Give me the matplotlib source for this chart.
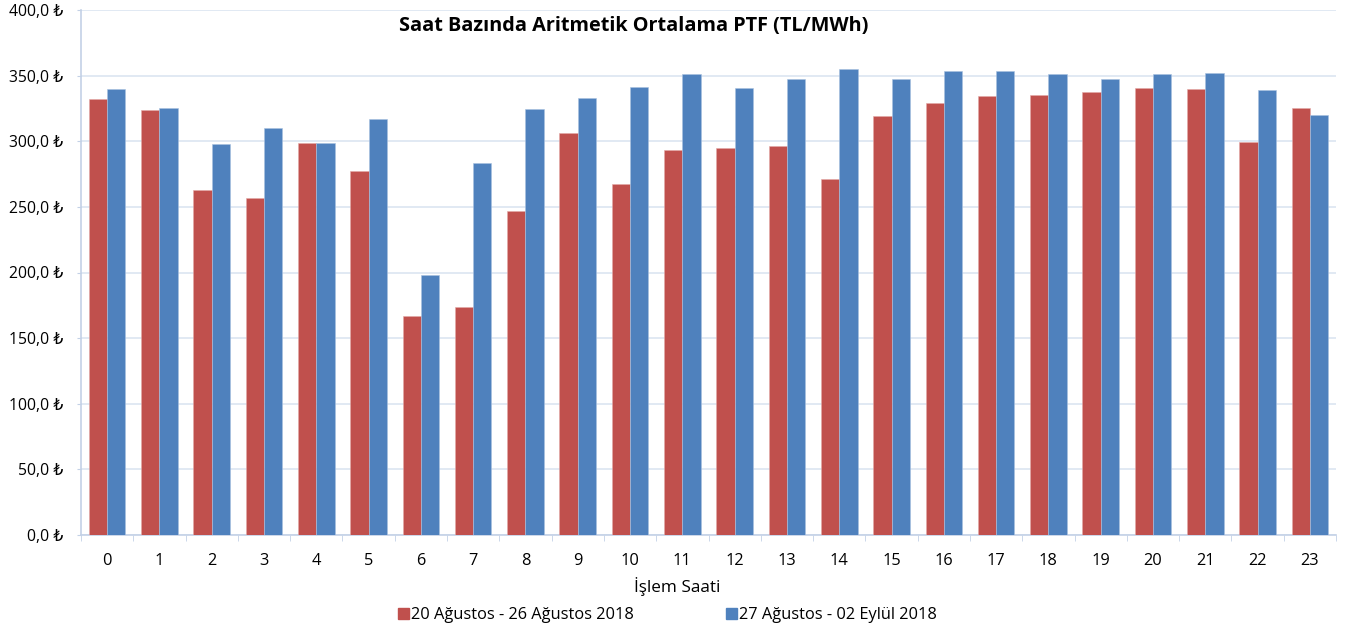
import numpy as np
import matplotlib.pyplot as plt
from matplotlib.patches import Patch

plt.rcParams['font.family'] = ['Open Sans', 'DejaVu Sans']

# Saat bazında ortalama PTF değerleri (TL/MWh)
saatler = list(range(24))
hafta1 = [332, 324, 262.5, 256.6, 298.3, 277.4, 167.2, 173.7, 247.2, 306.2, 267.3, 293.0,
          295.0, 296.5, 271.1, 319.4, 329.3, 334.4, 335.4, 337.2, 340.3, 339.7, 299.8, 325.0]
hafta2 = [340.0, 325.2, 298.0, 310.2, 298.6, 316.6, 198.1, 283.3, 324.7, 332.6, 341.3, 351.2,
          340.3, 347.6, 354.7, 347.6, 353.5, 353.2, 351.4, 347.4, 350.9, 351.9, 339.2, 320.1]
etiket1 = '20 Ağustos - 26 Ağustos 2018'
etiket2 = '27 Ağustos - 02 Eylül 2018'
y_ticks = [0, 50, 100, 150, 200, 250, 300, 350, 400]

kirmizi = '#C0504D'
mavi = '#4F81BD'
grid_renk = '#DCE5F1'
eksen_renk = '#C3D1E6'

fig = plt.figure(figsize=(13.55, 6.34), dpi=100)
ax = fig.add_axes([81 / 1355, 1 - 535 / 634, (1336 - 81) / 1355, (535 - 10) / 634])

x = np.arange(len(saatler))
w = 0.35
ax.bar(x - w / 2, hafta1, width=w, color=kirmizi, edgecolor='#E3A9A7', linewidth=0.4, zorder=3)
ax.bar(x + w / 2, hafta2, width=w, color=mavi, edgecolor='#A9C1E0', linewidth=0.4, zorder=3)

ax.set_xlim(-0.5, 23.5)
ax.set_ylim(0, 400)
ax.set_yticks(y_ticks)
ax.set_yticklabels([f'{v:.1f}'.replace('.', ',') + ' ₺' for v in y_ticks], fontsize=11.3)
ax.set_xticks(x)
ax.set_xticklabels([str(s) for s in saatler], fontsize=11.8)
ax.set_xticks(np.arange(-0.5, 24, 1), minor=True)
ax.tick_params(axis='x', which='major', length=0, pad=13)
ax.tick_params(axis='x', which='minor', length=4, color=eksen_renk)
ax.tick_params(axis='y', length=3, color=eksen_renk, pad=10)

ax.grid(axis='y', color=grid_renk, linewidth=1.2, zorder=0)
for s in ['top', 'right']:
    ax.spines[s].set_visible(False)
for s in ['left', 'bottom']:
    ax.spines[s].set_color(eksen_renk)
    ax.spines[s].set_linewidth(1.2)

fig.text(0.5, 1 - 586 / 634, 'İşlem Saati', fontsize=12.3, ha='center', va='center')
fig.text(0.468, 1 - 26 / 634, 'Saat Bazında Aritmetik Ortalama PTF (TL/MWh)',
         fontsize=14.3, fontweight='bold', ha='center', va='center')

handles = [Patch(color=kirmizi, label=etiket1), Patch(color=mavi, label=etiket2)]
fig.legend(handles=handles, loc='center', bbox_to_anchor=(0.4926, 19 / 634), ncol=2,
           frameon=False, fontsize=11.8, handlelength=0.65, handleheight=0.65,
           handletextpad=0.15, columnspacing=5.6)

fig.savefig('out.png', dpi=100)
